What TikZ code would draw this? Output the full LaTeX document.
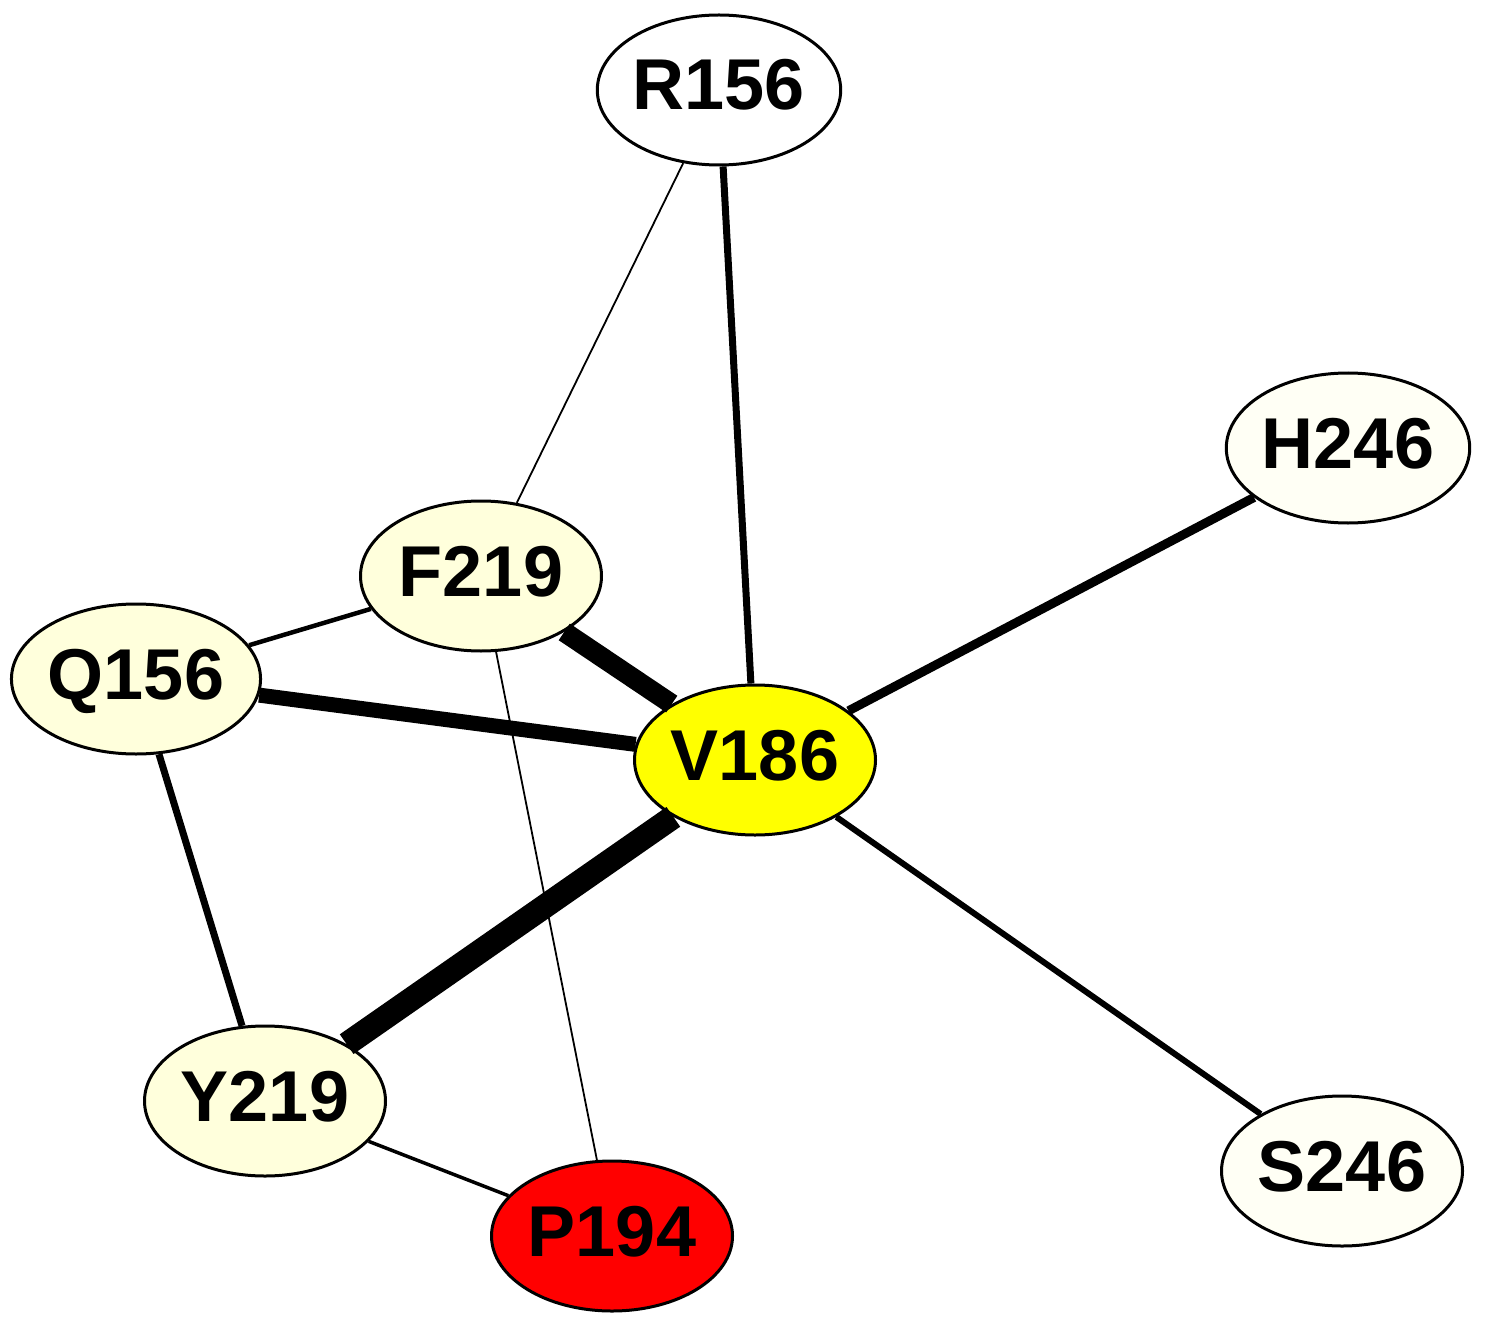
\documentclass[tikz,border=0pt]{standalone}
\usepackage{fontspec}
\setmainfont{Liberation Sans}
\usetikzlibrary{shapes.geometric}
\definecolor{lightyel}{RGB}{255,255,220}
\definecolor{paleyel}{RGB}{255,255,245}
\definecolor{pureyel}{RGB}{255,255,0}
\definecolor{purered}{RGB}{255,0,0}
\tikzset{
  res/.style={ellipse, draw=black, line width=3pt, minimum width=241pt, minimum height=150pt, inner sep=0pt,
    text height=52pt, text depth=12pt,
    font=\fontsize{72}{72}\selectfont\bfseries},
  e/.style={draw=black, line cap=butt},
}
\begin{document}
\begin{tikzpicture}[x=1pt,y=-1pt]
\useasboundingbox (0,0) rectangle (1488,1329);
\node[res, fill=white] (R156) at (719,90) {R156};
\node[res, fill=paleyel] (H246) at (1348,448) {H246};
\node[res, fill=lightyel] (F219) at (481,576) {F219};
\node[res, fill=lightyel] (Q156) at (136,679) {Q156};
\node[res, fill=pureyel] (V186) at (755,760) {V186};
\node[res, fill=lightyel] (Y219) at (265,1101) {Y219};
\node[res, fill=paleyel] (S246) at (1342,1171) {S246};
\node[res, fill=purered] (P194) at (612,1236) {P194};
\draw[e, line width=1.8pt] (R156) -- (F219);
\draw[e, line width=7pt] (R156) -- (V186);
\draw[e, line width=9pt] (H246) -- (V186);
\draw[e, line width=4.5pt] (F219) -- (Q156);
\draw[e, line width=20pt] (F219) -- (V186);
\draw[e, line width=1.8pt] (F219) -- (P194);
\draw[e, line width=15pt] (Q156) -- (V186);
\draw[e, line width=7pt] (Q156) -- (Y219);
\draw[e, line width=24pt] (V186) -- (Y219);
\draw[e, line width=6pt] (V186) -- (S246);
\draw[e, line width=3.5pt] (Y219) -- (P194);
\end{tikzpicture}
\end{document}
